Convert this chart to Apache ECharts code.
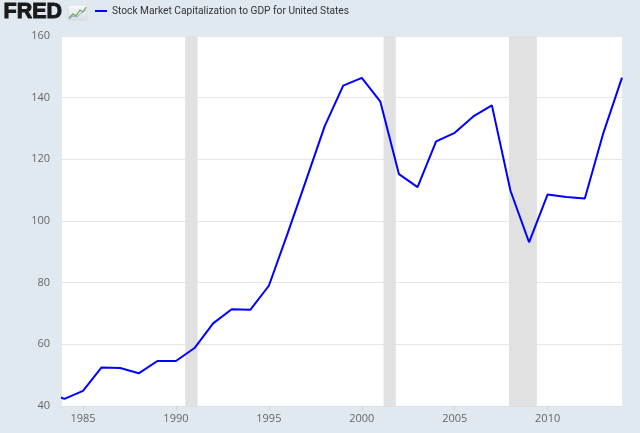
<!DOCTYPE html>
<html>
<head>
<meta charset="utf-8">
<script src="https://cdn.jsdelivr.net/npm/echarts@6/dist/echarts.min.js"></script>
<style>
html,body{margin:0;padding:0;background:#e1e9f0;}
#c{width:640px;height:433px;}
</style>
</head>
<body>
<div id="c"></div>
<script>
var years = [1983,1984,1985,1986,1987,1988,1989,1990,1991,1992,1993,1994,1995,1996,1997,1998,1999,2000,2001,2002,2003,2004,2005,2006,2007,2008,2009,2010,2011,2012,2013,2014];
var values = [44.5,42.3,44.9,52.5,52.3,50.6,54.6,54.6,58.8,66.8,71.4,71.2,79.0,95.8,113.2,130.7,143.9,146.4,138.7,115.2,111.0,125.8,128.6,133.9,137.5,109.8,93.1,108.6,107.8,107.3,128.6,146.5];
var xTickLabels = [1985,1990,1995,2000,2005,2010];
var recessions = [[1990.5,1991.17],[2001.17,2001.83],[2007.92,2009.42]];
var seriesName = 'Stock Market Capitalization to GDP for United States';

var chart = echarts.init(document.getElementById('c'));
var pairs = years.map(function(y,i){return [y, values[i]];});
var option = {
  backgroundColor: '#e1e9f0',
  animation: false,
  textStyle: {fontFamily: 'Open Sans'},
  grid: {left: 62, right: 18, top: 36, bottom: 27, show: true, backgroundColor: '#ffffff', borderWidth: 0},
  legend: {
    left: 95, top: 6, padding: 0,
    icon: 'rect', itemWidth: 12, itemHeight: 2, itemGap: 5,
    textStyle: {fontSize: 10.2, color: '#333333', fontFamily: 'Roboto', padding: [0,0,0,0]},
    data: [seriesName]
  },
  graphic: [
    {type: 'text', left: 3, top: 1, style: {text: 'FRED', font: '900 21.5px "Liberation Sans"', fill: '#1a1a1a', stroke: '#1a1a1a', lineWidth: 1}},
    {type: 'rect', shape: {x: 68, y: 5, width: 19, height: 15}, style: {fill: new echarts.graphic.LinearGradient(0,0,0,1,[{offset:0,color:'#fafafa'},{offset:1,color:'#d8dde2'}]), stroke: '#c8cdd2', lineWidth: 0.5}},
    {type: 'polyline', shape: {points: [[69,18],[73,14],[76,16],[80,10],[83,12],[86,7]]}, style: {stroke: '#6aa84f', lineWidth: 1.2, fill: null}},
    {type: 'polyline', shape: {points: [[69,19],[73,16],[77,17],[81,13],[86,10]]}, style: {stroke: '#7a9cc6', lineWidth: 0.8, fill: null}}
  ],
  xAxis: {
    type: 'value', min: 1983.87, max: 2014,
    axisLine: {show: true, lineStyle: {color: '#d9e1e8'}},
    axisTick: {show: true, customValues: xTickLabels, length: 4, lineStyle: {color: '#ccd6e0'}},
    axisLabel: {customValues: xTickLabels, color: '#666666', fontSize: 11, margin: 7, formatter: function(v){return String(v);}},
    splitLine: {show: false}
  },
  yAxis: {
    type: 'value', min: 40, max: 160, interval: 20,
    axisLine: {show: false}, axisTick: {show: false},
    axisLabel: {color: '#666666', fontSize: 11, margin: 12},
    splitLine: {lineStyle: {color: '#e6e6e6', width: 1}}
  },
  series: [{
    name: seriesName,
    type: 'line',
    data: pairs,
    symbol: 'none',
    lineStyle: {color: '#0000ff', width: 2},
    itemStyle: {color: '#0000ff'},
    clip: true,
    markArea: {
      silent: true,
      itemStyle: {color: '#e1e1e1'},
      data: recessions.map(function(r){return [{xAxis: r[0]}, {xAxis: r[1]}];})
    }
  }]
};
chart.setOption(option);
</script>
</body>
</html>
